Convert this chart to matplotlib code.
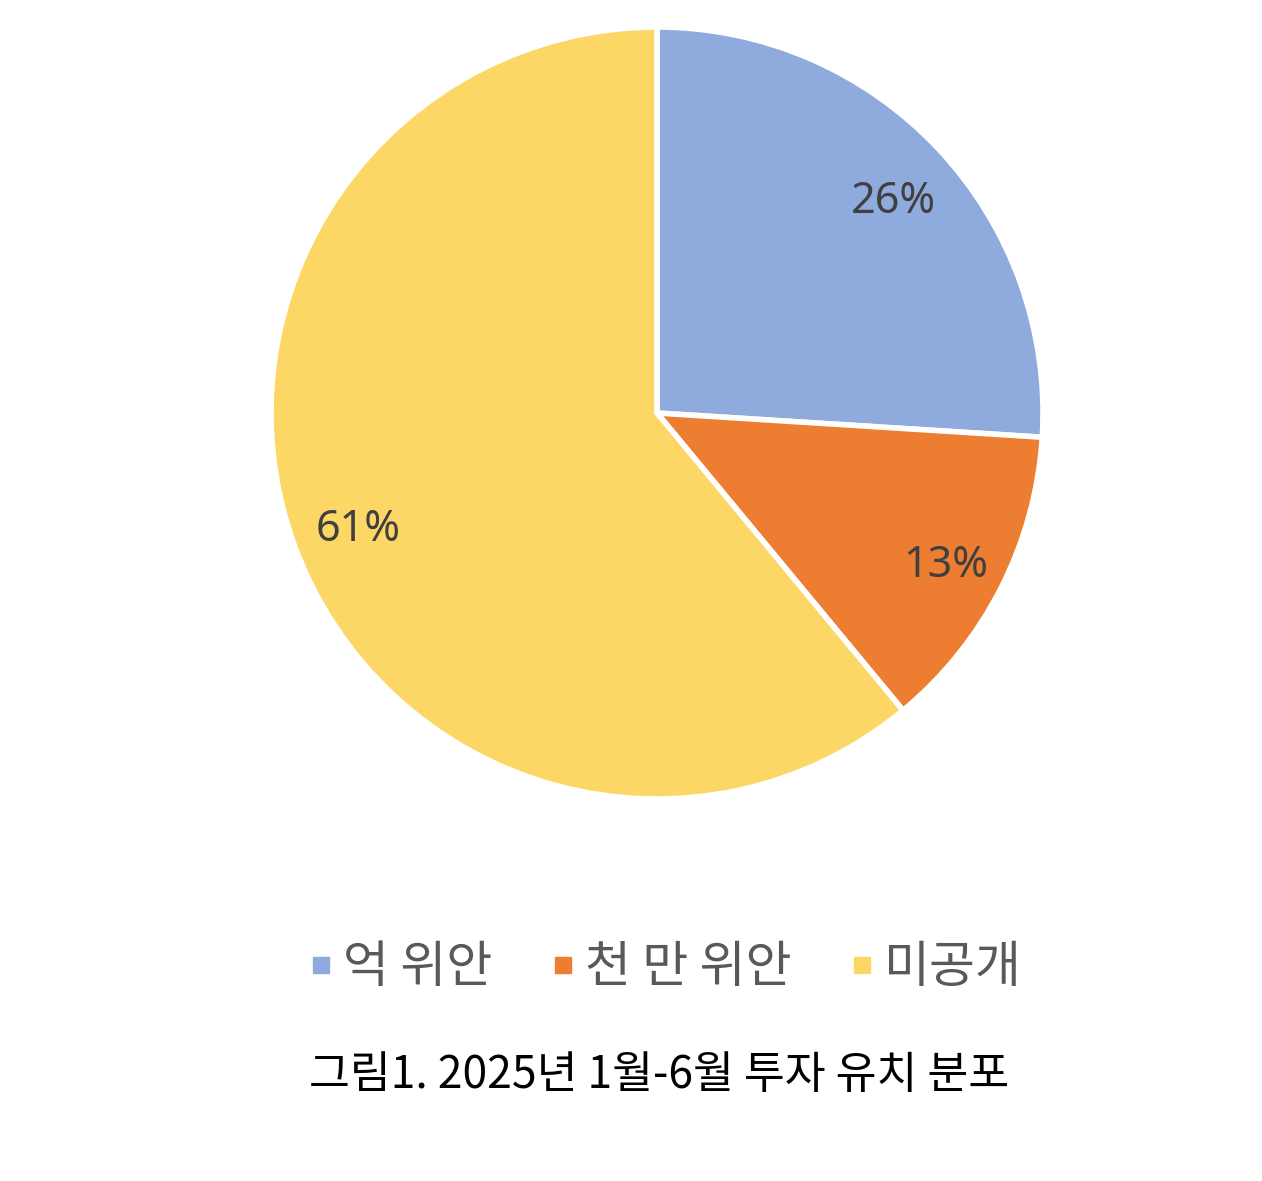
import matplotlib.pyplot as plt
from matplotlib.lines import Line2D

plt.rcParams['font.family'] = ['Noto Sans CJK KR', 'DejaVu Sans']

labels = ["억 위안", "천 만 위안", "미공개"]
shares = [26, 13, 61]
colors = ["#8FAADC", "#ED7D31", "#FDD766"]
caption = "그림1. 2025년 1월-6월 투자 유치 분포"

W, H = 1262, 1181
fig = plt.figure(figsize=(W / 100, H / 100), dpi=100)
ax = fig.add_axes([0, 0, 1, 1])
ax.set_xlim(0, W)
ax.set_ylim(0, H)
ax.set_aspect("equal")
ax.axis("off")

wedges, texts, autotexts = ax.pie(
    shares, colors=colors, startangle=90, counterclock=False,
    center=(657, H - 413), radius=386,
    autopct="%d%%", pctdistance=0.83,
    wedgeprops=dict(edgecolor="white", linewidth=4),
    textprops=dict(color="#404040", fontsize=31, family="Noto Sans"),
)
ax.set_xlim(0, W)
ax.set_ylim(0, H)
# nudge percentage labels down a little, like the original
for t in autotexts:
    x, y = t.get_position()
    t.set_position((x + 3, y - 8))

handles = [Line2D([], [], marker="s", linestyle="", markersize=11,
                  markerfacecolor=c, markeredgecolor=c) for c in colors]
fig.legend(handles, labels, loc="center", bbox_to_anchor=(664 / W, 1 - 968 / H),
           ncol=3, frameon=False, fontsize=36, labelcolor="#595959",
           handletextpad=0.15, columnspacing=1.1, handlelength=0.6)

fig.text(659 / W, 1 - 1075 / H, caption, ha="center", va="center",
         fontsize=32, color="black")

fig.savefig("out.png", dpi=100)
